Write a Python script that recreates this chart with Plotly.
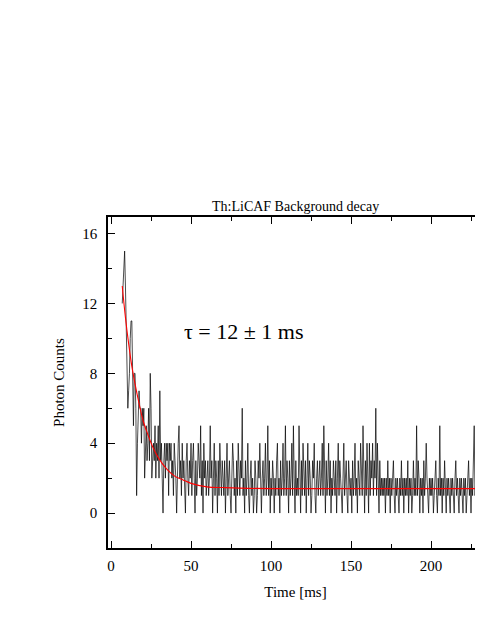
import plotly.graph_objects as go

# ================== DATA ==================
T_START = 7.0  # ms, first bin
T_STEP = 0.5   # ms between bins
counts = [
    # 7 - 40 ms
    12, 13, 14, 15, 13, 11, 8, 6, 7, 8, 10, 11, 11, 7, 5, 8, 8, 6, 1, 4,
    6, 7, 6, 6, 4, 6, 5, 6, 2, 4, 5, 3, 4, 6, 3, 8, 6, 2, 3, 4,
    3, 5, 2, 4, 3, 5, 2, 7, 3, 4, 2, 0, 3, 4, 2, 4, 3, 4, 1, 4,
    3, 4, 2, 3, 1, 4, 3,
    # 40.5 - 100 ms
    2, 0, 3, 4, 5, 2, 3, 1, 4, 2, 3, 1, 0, 3, 4, 2, 1, 3, 2, 4,
    1, 3, 4, 2, 0, 3, 1, 2, 4, 3, 2, 5, 1, 3, 0, 4, 2, 3, 1, 2,
    3, 1, 2, 5, 2, 3, 0, 2, 4, 1, 3, 2, 0, 3, 1, 4, 2, 1, 3, 2,
    1, 3, 0, 2, 4, 1, 2, 3, 1, 0, 2, 4, 3, 1, 2, 0, 3, 1, 4, 2,
    1, 3, 2, 6, 1, 2, 0, 3, 1, 2, 4, 1, 0, 2, 3, 1, 2, 0, 1, 3,
    2, 0, 1, 3, 2, 4, 1, 0, 2, 3, 1, 2, 4, 1, 2, 5, 1, 3, 0, 2,
    # 100.5 - 160 ms
    1, 3, 2, 0, 2, 1, 3, 4, 1, 2, 0, 3, 1, 2, 4, 1, 2, 5, 1, 3,
    2, 0, 3, 1, 2, 4, 1, 5, 2, 0, 3, 1, 2, 1, 5, 2, 0, 3, 1, 4,
    2, 1, 3, 0, 2, 4, 1, 3, 2, 0, 1, 3, 2, 4, 1, 0, 2, 3, 1, 2,
    3, 1, 2, 4, 1, 5, 2, 0, 3, 1, 2, 4, 1, 3, 0, 2, 1, 3, 2, 1,
    3, 0, 2, 4, 1, 3, 2, 1, 0, 2, 4, 1, 2, 3, 1, 0, 3, 2, 1, 2,
    0, 3, 1, 2, 4, 1, 2, 0, 3, 2, 1, 4, 2, 1, 5, 2, 0, 3, 1, 4,
    # 160.5 - 235 ms
    2, 0, 4, 1, 3, 2, 4, 1, 3, 2, 6, 1, 4, 2, 0, 3, 1, 2, 1, 2,
    1, 2, 0, 2, 1, 3, 1, 2, 0, 2, 1, 2, 3, 1, 0, 2, 1, 2, 1, 0,
    2, 1, 3, 1, 2, 0, 2, 1, 2, 1, 3, 0, 2, 1, 2, 0, 1, 3, 1, 2,
    1, 5, 1, 3, 2, 0, 2, 1, 2, 0, 3, 1, 2, 4, 2, 1, 0, 2, 1, 2,
    1, 2, 0, 1, 2, 3, 1, 0, 2, 1, 5, 1, 2, 0, 2, 1, 3, 1, 0, 2,
    1, 2, 1, 0, 2, 1, 2, 1, 0, 2, 3, 1, 2, 1, 0, 2, 1, 2, 1, 0,
    2, 1, 2, 0, 1, 2, 3, 1, 2, 0, 2, 1, 3, 5, 1, 2, 0, 4, 1, 2,
    0, 2, 1, 3, 1, 2, 0, 2, 1, 2,
]
time_ms = [T_START + T_STEP * i for i in range(len(counts))]

# exponential fit curve
fit_t = [7, 9, 11, 13, 15, 17, 20, 23, 26, 30, 35, 40, 45, 50, 60, 70, 80, 100, 150, 200, 235]
fit_y = [13.0, 11.2, 9.7, 8.4, 7.4, 6.5, 5.3, 4.5, 3.8, 3.1, 2.5, 2.1, 1.9, 1.7, 1.5, 1.46, 1.43, 1.4, 1.4, 1.4, 1.4]

x_ticks = [0, 50, 100, 150, 200]
y_ticks = [0, 4, 8, 12, 16]

FONT = "Liberation Serif, Times New Roman, serif"

fig = go.Figure()
fig.add_trace(go.Scatter(x=time_ms, y=counts, mode="lines",
                         line=dict(color="black", width=0.7), showlegend=False))
fig.add_trace(go.Scatter(x=fit_t, y=fit_y, mode="lines",
                         line=dict(color="red", width=1.1, shape="spline"), showlegend=False))

fig.add_annotation(x=0.5, xref="paper", y=1, yref="paper", yanchor="bottom", yshift=1,
                   text="Th:LiCAF Background decay", showarrow=False,
                   font=dict(family=FONT, size=14, color="black"))
fig.add_annotation(x=83, y=10.4, text="τ = 12 ± 1 ms", showarrow=False,
                   font=dict(family=FONT, size=22, color="black"))

fig.update_xaxes(range=[-1.9, 232.5], tickvals=x_ticks, ticks="inside", ticklen=7,
                 tickwidth=1, tickcolor="black", showline=True, linewidth=1.5,
                 linecolor="black", mirror="ticks", showgrid=False, zeroline=False,
                 minor=dict(ticks="inside", ticklen=4, dtick=25, tick0=0, tickcolor="black"),
                 title=dict(text="Time [ms]", font=dict(family=FONT, size=15, color="black"), standoff=14),
                 tickfont=dict(family=FONT, size=15, color="black"), ticklabelstandoff=3)
fig.update_yaxes(range=[-2, 16.95], tickvals=y_ticks, ticks="inside", ticklen=7,
                 tickwidth=1, tickcolor="black", showline=True, linewidth=1.5,
                 linecolor="black", showgrid=False, zeroline=False,
                 minor=dict(ticks="inside", ticklen=4, dtick=2, tick0=0, tickcolor="black"),
                 title=dict(text="Photon Counts", font=dict(family=FONT, size=15, color="black"), standoff=14),
                 tickfont=dict(family=FONT, size=15, color="black"), ticklabelstandoff=6)

# page body adds an 8 px margin; keep the figure short so no vertical scrollbar eats the right edge
fig.update_layout(width=475, height=592, plot_bgcolor="white", paper_bgcolor="white",
                  margin=dict(l=100, r=0, t=209, b=52))

fig.write_html("out.html")
